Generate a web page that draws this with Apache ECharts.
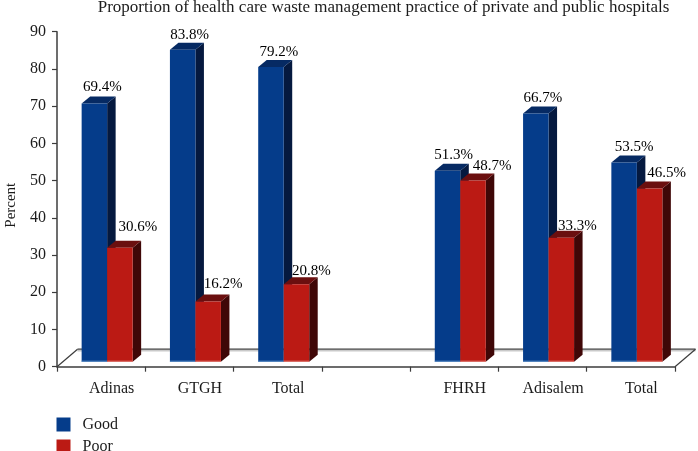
<!DOCTYPE html>
<html><head><meta charset="utf-8">
<style>html,body{margin:0;padding:0;background:#fff}#c{width:698px;height:451px}</style>
<script src="https://cdn.jsdelivr.net/npm/echarts@6/dist/echarts.min.js"></script>
</head><body><div id="c"></div>
<script>
const categories = ['Adinas', 'GTGH', 'Total', '', 'FHRH', 'Adisalem', 'Total'];
const goodValues = [69.4, 83.8, 79.2, null, 51.3, 66.7, 53.5];
const poorValues = [30.6, 16.2, 20.8, null, 48.7, 33.3, 46.5];
const yTicks = {min: 0, max: 90, interval: 10};

// layout only: label nudges [dx, dy] from the bar's front-top-centre
const goodNudge = [[8,-16],[7,-15],[8,-15],null,[6,-16],[7,-15],[10,-15]];
const poorNudge = [[18,-21],[15,-17],[15,-13],null,[19,-14],[16,-12],[17,-16]];

const FONT = '"Liberation Serif", serif';
const TEXT = '#1c1c1c';
const BAR_W = 25.5, DX = 8.5, DY = 7, LIFT = 5, SHIFT = 6;

const dataOf = vals => vals.map((v, i) => [i, v]).filter(d => d[1] != null);

function barRenderer(offsetIdx, faces, nudges) {
  return function (params, api) {
    const idx = api.value(0), val = api.value(1);
    const p = api.coord([idx, val]), b = api.coord([idx, 0]);
    const x0 = b[0] + SHIFT + (offsetIdx - 1) * BAR_W, x1 = x0 + BAR_W;
    const yt = p[1] - LIFT, yb = b[1] - LIFT;
    const n = nudges[idx];
    return {type: 'group', children: [
      {type: 'polygon', shape: {points: [[x1, yt], [x1 + DX, yt - DY], [x1 + DX, yb - DY], [x1, yb]]}, style: {fill: faces.side}},
      {type: 'polygon', shape: {points: [[x0, yt], [x0 + DX, yt - DY], [x1 + DX, yt - DY], [x1, yt]]}, style: {fill: faces.top}},
      {type: 'rect', shape: {x: x0, y: yt, width: BAR_W, height: yb - yt}, style: {fill: faces.front}},
      {type: 'rect', shape: {x: x0, y: yb - 1, width: BAR_W, height: 1}, style: {fill: faces.edge}},
      {type: 'text', z2: 50, style: {text: val.toFixed(1) + '%', x: (x0 + x1) / 2 + n[0], y: yt + n[1],
        align: 'center', verticalAlign: 'middle', font: '15px ' + FONT, fill: '#000'}}
    ]};
  };
}

const floorSeries = {
  type: 'custom', name: 'floor', silent: true, z: 1, data: [[0, 0]],
  encode: {x: 0, y: 1},
  renderItem(params, api) {
    const band = api.size([1, 0])[0];
    const a = api.coord([0, 0]), z = api.coord([categories.length - 1, 0]);
    const l = a[0] - band / 2, r = z[0] + band / 2, y = a[1], d = 17.5, w = 20.5;
    const ln = (x1, y1, x2, y2, c, lw) => ({type: 'line', shape: {x1, y1, x2, y2}, style: {stroke: c, lineWidth: lw}});
    return {type: 'group', children: [
      ln(l + w, y - d + 1.5, r + w, y - d + 1.5, '#c9c9c9', 1.5),
      ln(l + w, y - d, r + w, y - d, '#3c3c3c', 1.2),
      ln(l, y, l + w, y - d, '#3c3c3c', 1.2),
      ln(r, y, r + w, y - d, '#3c3c3c', 1.2)
    ]};
  }
};

const chart = echarts.init(document.getElementById('c'), null, {renderer: 'canvas'});
chart.setOption({
  animation: false,
  backgroundColor: '#fff',
  title: {text: 'Proportion of health care waste management practice of private and public hospitals',
    left: 378.5, textAlign: 'center', top: -6,
    textStyle: {fontFamily: FONT, fontSize: 17, fontWeight: 'normal', color: TEXT}},
  grid: {left: 57, right: 23, top: 31.7, bottom: 84.3, containLabel: false, outerBoundsMode: 'none'},
  legend: {orient: 'vertical', left: 56.5, top: 416.5, padding: 0, height: 60, itemWidth: 14, itemHeight: 14, itemGap: 6,
    data: ['Good', 'Poor'], icon: 'rect',
    textStyle: {fontFamily: FONT, fontSize: 16, lineHeight: 14, color: TEXT, padding: [0, 0, 0, 7]}},
  xAxis: {type: 'category', data: categories,
    axisLine: {lineStyle: {color: '#3c3c3c', width: 1.5}},
    axisTick: {show: true, length: 5, interval: 0, lineStyle: {color: '#3c3c3c', width: 1.2}},
    axisLabel: {interval: 0, margin: 14, padding: [0, 0, 0, 21], fontFamily: FONT, fontSize: 16, color: TEXT}},
  yAxis: {type: 'value', min: yTicks.min, max: yTicks.max, interval: yTicks.interval,
    name: 'Percent', nameLocation: 'middle', nameGap: 38,
    nameTextStyle: {fontFamily: FONT, fontSize: 15, color: TEXT, padding: [0, 12, 0, 0]},
    axisLine: {show: true, lineStyle: {color: '#3c3c3c', width: 1.5}},
    axisTick: {show: true, length: 5, lineStyle: {color: '#3c3c3c', width: 1.2}},
    axisLabel: {margin: 11, fontFamily: FONT, fontSize: 16, color: TEXT},
    splitLine: {show: false}},
  series: [
    floorSeries,
    {type: 'custom', name: 'Good', z: 2, data: dataOf(goodValues), encode: {x: 0, y: 1},
      itemStyle: {color: '#053c8a'},
      renderItem: barRenderer(0, {front: '#053c8a', side: '#05193f', top: '#062a63', edge: '#5b8fc9'}, goodNudge)},
    {type: 'custom', name: 'Poor', z: 2, data: dataOf(poorValues), encode: {x: 0, y: 1},
      itemStyle: {color: '#bb1a14'},
      renderItem: barRenderer(1, {front: '#bb1a14', side: '#3f0707', top: '#6b0f0f', edge: '#e07a70'}, poorNudge)}
  ]
});
</script></body></html>
